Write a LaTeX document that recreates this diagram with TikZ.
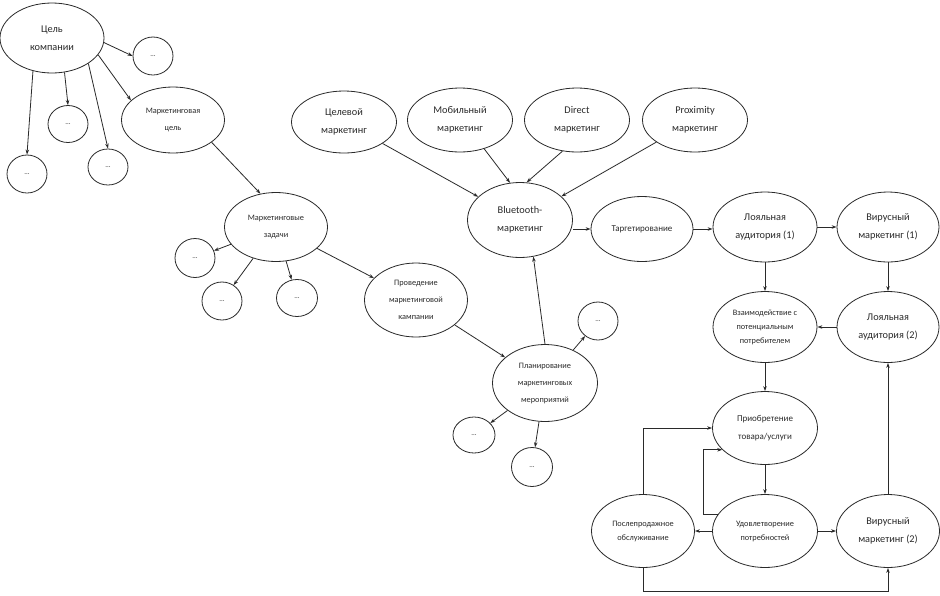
\documentclass[tikz,border=0pt]{standalone}
\usepackage{fontspec}
\setmainfont{Carlito}
\usetikzlibrary{shapes.geometric,arrows.meta}
\definecolor{ln}{HTML}{2A2A2A}
\tikzset{
  el/.style={ellipse, draw=ln, line width=0.8pt, inner sep=0pt, align=center, text=ln},
  sz/.style 2 args={minimum width=#1pt, minimum height=#2pt},
  big/.style={font=\fontsize{10.3}{18}\selectfont},
  mid/.style={font=\fontsize{9}{17.5}\selectfont},
  mids/.style={font=\fontsize{8.3}{17}\selectfont},
  sml/.style={font=\fontsize{8.3}{14}\selectfont},
  dots/.style={el, font=\fontsize{7}{8}\selectfont},
  arr/.style={draw=ln, line width=0.8pt, -{Stealth[length=5pt,width=3.5pt]}}
}
\begin{document}
\begin{tikzpicture}[x=1pt,y=-1pt]
\useasboundingbox[fill=white] (0,0) rectangle (940,595);
% nodes
\node[el,big,sz={104}{70}] (c) at (52,38) {Цель\\компании};
\node[dots,sz={40}{38}] (d1) at (153,56) {...};
\node[dots,sz={40}{37}] (d2) at (68,124) {...};
\node[dots,sz={40}{38}] (d3) at (27,174) {...};
\node[dots,sz={40}{36}] (d4) at (108,167) {...};
\node[el,mids,sz={103}{66}] (mcel) at (173,120) {Маркетинговая\\цель};
\node[el,mids,sz={103}{69}] (mz) at (276,227) {Маркетинговые\\задачи};
\node[dots,sz={40}{39}] (d5) at (195,258) {...};
\node[dots,sz={40}{38}] (d6) at (222,301) {...};
\node[dots,sz={41}{37}] (d7) at (297,298) {...};
\node[el,mids,sz={103}{74}] (prov) at (416,300) {Проведение\\маркетинговой\\кампании};
\node[el,big,sz={105}{62}] (cel) at (344,122) {Целевой\\маркетинг};
\node[el,big,sz={105}{64}] (mob) at (460,120) {Мобильный\\маркетинг};
\node[el,big,sz={105}{64}] (dir) at (577,120) {Direct\\маркетинг};
\node[el,big,sz={105}{64}] (prox) at (695,120) {Proximity\\маркетинг};
\node[el,big,sz={105}{75}] (bt) at (520,220) {Bluetooth-\\маркетинг};
\node[el,mid,sz={102}{65}] (targ) at (642,229) {Таргетирование};
\node[el,big,sz={104}{70}] (loy1) at (765,227) {Лояльная\\аудитория (1)};
\node[el,big,sz={102}{70}] (vir1) at (888,227) {Вирусный\\маркетинг (1)};
\node[el,sml,sz={104}{71}] (vz) at (765,327) {Взаимодействие с\\потенциальным\\потребителем};
\node[el,big,sz={102}{71}] (loy2) at (888,327) {Лояльная\\аудитория (2)};
\node[el,mid,sz={105}{73}] (pri) at (765,428) {Приобретение\\товара/услуги};
\node[el,sml,sz={105}{73}] (ud) at (765,531) {Удовлетворение\\потребностей};
\node[el,sml,sz={103}{73}] (posl) at (643,531) {Послепродажное\\обслуживание};
\node[el,big,sz={103}{73}] (vir2) at (888,531) {Вирусный\\маркетинг (2)};
\node[el,mids,sz={105}{77}] (plan) at (545,383) {Планирование\\маркетинговых\\мероприятий};
\node[dots,sz={40}{38}] (d8) at (598,321) {...};
\node[dots,sz={42}{36}] (d9) at (474,435) {...};
\node[dots,sz={41}{39}] (d10) at (532,467) {...};
\coordinate (lp) at (703,0);
\coordinate (bot) at (0,591);
% connectors
\draw[arr] (c.355) -- (d1.west);
\draw[arr] (c.290) -- (d2.north);
\draw[arr] (c.240) -- (d3.north);
\draw[arr] (c.325) -- (d4.north);
\draw[arr] (c.340) -- (mcel.155);
\draw[arr] (mcel.330) -- (mz.115);
\draw[arr] (mz) -- (d5);
\draw[arr] (mz) -- (d6);
\draw[arr] (mz) -- (d7);
\draw[arr] (mz) -- (prov);
\draw[arr] (prov) -- (plan);
\draw[arr] (plan.90) -- (bt.290);
\draw[arr] (plan) -- (d8);
\draw[arr] (plan) -- (d9);
\draw[arr] (plan) -- (d10);
\draw[arr] (cel) -- (bt);
\draw[arr] (mob.310) -- (bt.105);
\draw[arr] (dir.245) -- (bt.80);
\draw[arr] (prox) -- (bt);
\draw[arr] (bt.east |- targ.west) -- (targ.west);
\draw[arr] (targ.east) -- (loy1.west |- targ.east);
\draw[arr] (loy1) -- (vir1);
\draw[arr] (loy1) -- (vz);
\draw[arr] (vir1) -- (loy2);
\draw[arr] (loy2) -- (vz);
\draw[arr] (vz) -- (pri);
\draw[arr] (pri) -- (ud);
\draw[arr] (ud) -- (posl);
\draw[arr] (ud) -- (vir2);
\draw[arr] (ud.160) -- (ud.160 -| lp) -- (lp |- pri.207) -- (pri.207);
\draw[arr] (posl.north) |- (pri.west);
\draw[arr] (posl.south) -- (posl.south |- bot) -| (vir2.south);
\draw[arr] (vir2.north) -- (loy2.south);
\end{tikzpicture}
\end{document}
